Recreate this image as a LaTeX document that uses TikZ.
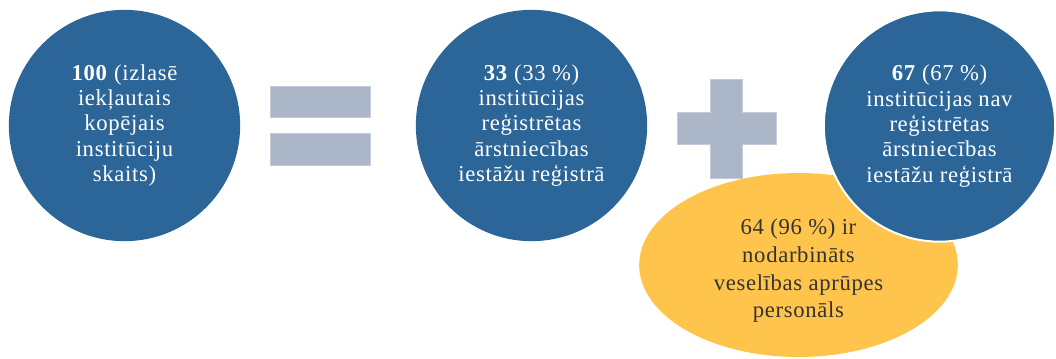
\documentclass[tikz,border=0pt]{standalone}
\usepackage{fontspec}
\setmainfont{Liberation Serif}[LetterSpace=3]
\usetikzlibrary{shapes.geometric}
\definecolor{cblue}{HTML}{2C6699}
\definecolor{cgray}{HTML}{ABB6C8}
\definecolor{cyellow}{HTML}{FEC44C}
\definecolor{ctext}{HTML}{333333}

\begin{document}
\begin{tikzpicture}[x=0.75pt,y=-0.75pt,
  every node/.style={align=center, font=\fontsize{17}{19}\selectfont},
  bigcircle/.style={circle, fill=cblue, text=white, minimum size=173.5pt, inner sep=0pt},
  bar/.style={fill=cgray, draw=cgray!70!white, line width=0.5pt}]
\useasboundingbox (0,0) rectangle (1056,358);
\node[ellipse, fill=cyellow, minimum width=239pt, minimum height=138pt, inner sep=0pt] (staff) at (798.5,265) {};
\node[text=ctext, font=\fontsize{17}{20.75}\selectfont] (stafftext) at (798.5,271) {64 (96 \%) ir\\ nodarbināts\\ veselības aprūpes\\ personāls};
\node[bigcircle] (total) at (124.5,125.5) {\textbf{100} (izlasē\\ iekļautais\\ kopējais\\ institūciju\\ skaits)};
\node[bigcircle] (reg) at (531.5,125.5) {\textbf{33} (33 \%)\\ institūcijas\\ reģistrētas\\ ārstniecības\\ iestāžu reģistrā};
\node[bigcircle, draw=white, line width=1.5pt] (notreg) at (939.5,126) {\textbf{67} (67 \%)\\ institūcijas nav\\ reģistrētas\\ ārstniecības\\ iestāžu reģistrā};
% equals sign
\draw[bar] (270,86) rectangle (370,117);
\draw[bar] (270,133) rectangle (370,165);
% plus sign
\draw[bar] (677,112) rectangle (776,144);
\draw[bar] (710,79) rectangle (742,112);
\draw[bar] (710,144) rectangle (742,178);
\fill[cgray] (710.5,111) rectangle (741.5,145);
\end{tikzpicture}
\end{document}
